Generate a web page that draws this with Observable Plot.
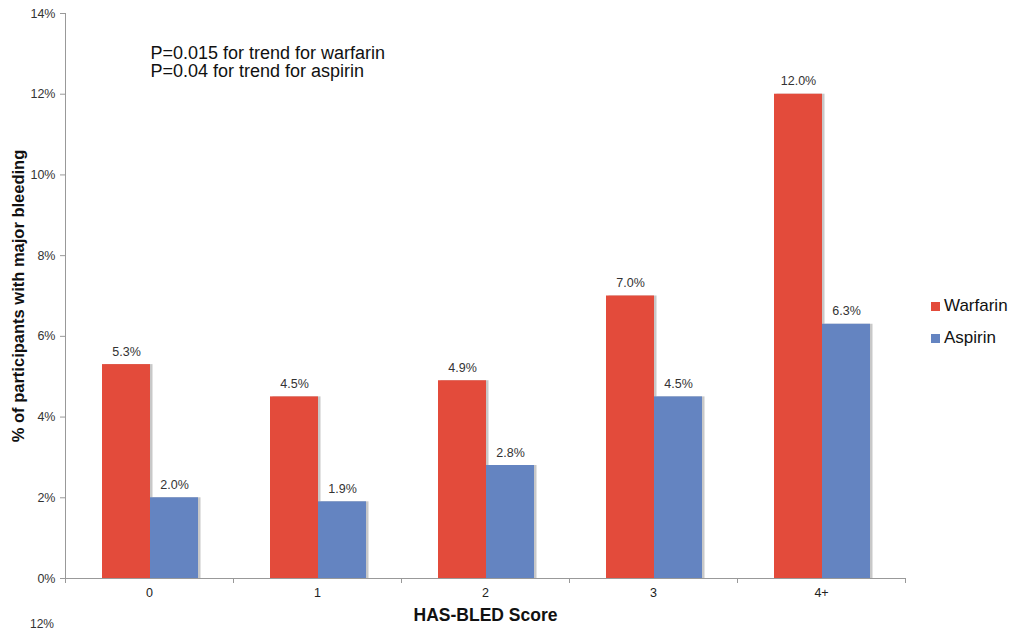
<!DOCTYPE html>
<html>
<head>
<meta charset="utf-8">
<script src="https://cdn.jsdelivr.net/npm/d3@7"></script>
<script src="https://cdn.jsdelivr.net/npm/@observablehq/plot@0.6"></script>
<style>
  html, body { margin: 0; padding: 0; background: #fff; overflow: hidden; }
  #wrap { position: relative; width: 1018px; height: 632px; font-family: "Liberation Sans", Arial, sans-serif; }
  #wrap svg { font-family: "Liberation Sans", Arial, sans-serif; }
  .legend { position: absolute; left: 931px; font-size: 17px; color: #111; display: flex; align-items: center; }
  .legend span.sw { display: inline-block; width: 9px; height: 9px; margin-right: 4px; }
  .cut { position: absolute; left: 30px; top: 617px; font-size: 12px; color: #333; }
</style>
</head>
<body>
<div id="wrap"></div>
<script>
const categories = ["0", "1", "2", "3", "4+"];
const warfarin = [5.3, 4.5, 4.9, 7.0, 12.0];
const aspirin = [2.0, 1.9, 2.8, 4.5, 6.3];
const seriesNames = ["Warfarin", "Aspirin"];
const seriesColors = ["#E34B3B", "#6484C1"];
const yTicks = [0, 2, 4, 6, 8, 10, 12, 14];
const pText = "P=0.015 for trend for warfarin\nP=0.04 for trend for aspirin";

const rows = [];
categories.forEach((c, i) => {
  rows.push({cat: c, series: "Warfarin", value: warfarin[i]});
  rows.push({cat: c, series: "Aspirin", value: aspirin[i]});
});
const W = rows.filter(d => d.series === "Warfarin");
const A = rows.filter(d => d.series === "Aspirin");

// boundary ticks on the x axis, drawn through the x band scale
function boundaryTicks(index, scales) {
  const x = scales.x, y = scales.y;
  const bw = x.bandwidth ? x.bandwidth() : 168;
  const y0 = y(0);
  const g = d3.create("svg:g").attr("stroke", "#999").attr("stroke-width", 1);
  const xs = categories.map(c => x(c)).concat([x(categories[categories.length - 1]) + bw]);
  xs.forEach(px => {
    g.append("line").attr("x1", px + 0.5).attr("x2", px + 0.5).attr("y1", y0).attr("y2", y0 + 5);
  });
  return g.node();
}

const chart = Plot.plot({
  width: 1018,
  height: 632,
  marginLeft: 65,
  marginRight: 113,
  marginTop: 13,
  marginBottom: 54,
  style: {fontFamily: "Liberation Sans, Arial, sans-serif", background: "white"},
  x: {domain: categories, padding: 0},
  y: {domain: [0, 14]},
  marks: [
    // shadows
    Plot.barY(W, {x: "cat", y: "value", fill: "#c8c8c8", insetLeft: 37, insetRight: 83, dx: 2.5}),
    Plot.barY(A, {x: "cat", y: "value", fill: "#c8c8c8", insetLeft: 85, insetRight: 35, dx: 2.5}),
    Plot.barY(W, {x: "cat", y: "value", fill: seriesColors[0], insetLeft: 37, insetRight: 83}),
    Plot.barY(A, {x: "cat", y: "value", fill: seriesColors[1], insetLeft: 85, insetRight: 35}),
    Plot.text(W, {x: "cat", y: "value", text: d => d.value.toFixed(1) + "%", dx: -23, dy: -13, fontSize: 12.5, fill: "#333"}),
    Plot.text(A, {x: "cat", y: "value", text: d => d.value.toFixed(1) + "%", dx: 25, dy: -13, fontSize: 12.5, fill: "#333"}),
    Plot.ruleY([0], {stroke: "#999"}),
    Plot.frame({anchor: "left", stroke: "#999"}),
    boundaryTicks,
    Plot.axisY({ticks: yTicks, tickFormat: d => d + "%", tickSize: 5, tickPadding: 5, fontSize: 12.5, color: "#333", stroke: "#999",
      label: "% of participants with major bleeding", labelAnchor: "center", labelOffset: 53, labelArrow: "none"}),
    Plot.axisX({tickSize: 0, tickPadding: 10, fontSize: 12.5, color: "#222",
      label: "HAS-BLED Score", labelAnchor: "center", labelOffset: 42, labelArrow: "none"}),
    Plot.text([pText], {frameAnchor: "top-left", dx: 85, dy: 33, lineAnchor: "top", textAnchor: "start", fontSize: 18, lineHeight: 1.0, fill: "#111"})
  ]
});

// style axis labels: bold, and strip any arrow
function styleLabel(sel, size) {
  chart.querySelectorAll(sel).forEach(g => {
    g.setAttribute("font-weight", "bold"); g.setAttribute("font-size", size); g.setAttribute("fill", "#111");
    g.querySelectorAll("text").forEach(t => {
      t.setAttribute("font-weight", "bold"); t.setAttribute("font-size", size);
      t.textContent = t.textContent.replace(/\s*[↑↓→←]\s*/g, "");
    });
  });
}
styleLabel('[aria-label="y-axis label"]', "16.5");
styleLabel('[aria-label="x-axis label"]', "17.5");

const wrap = document.getElementById("wrap");
wrap.appendChild(chart);

// legend (HTML overlay to the right of the plot)
seriesNames.forEach((name, i) => {
  const div = document.createElement("div");
  div.className = "legend";
  div.style.top = (296 + i * 32) + "px";
  div.innerHTML = `<span class="sw" style="background:${seriesColors[i]}"></span>${name}`;
  wrap.appendChild(div);
});
const cut = document.createElement("div");
cut.className = "cut";
cut.textContent = "12%";
wrap.appendChild(cut);
</script>
</body>
</html>
